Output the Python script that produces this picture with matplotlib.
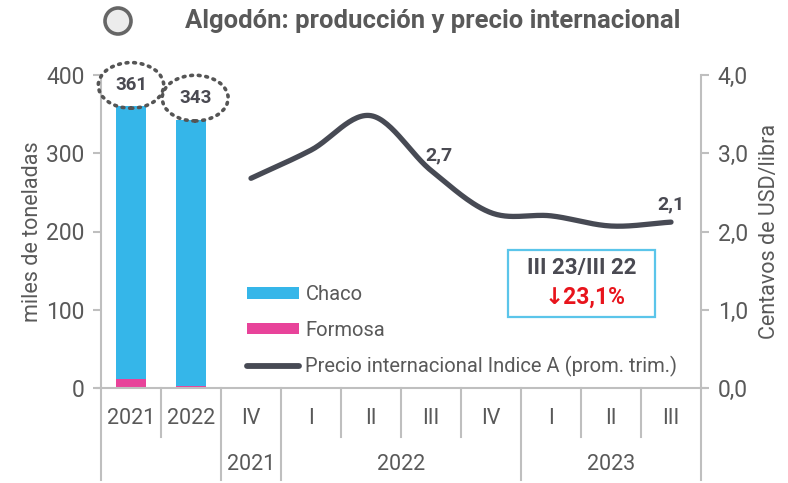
import numpy as np
import matplotlib
matplotlib.use("Agg")
import matplotlib.pyplot as plt
from matplotlib import font_manager as fm
from matplotlib.patches import Rectangle, Ellipse
from matplotlib.lines import Line2D
import matplotlib.transforms as mtransforms

# ---------------- data ----------------
bar_years = ["2021", "2022"]
chaco = [350, 340]
formosa = [11, 3]
bar_totals = [361, 343]

quarters = ["IV", "I", "II", "III", "IV", "I", "II", "III"]
quarter_years = ["2021", "2022", "2022", "2022", "2022", "2023", "2023", "2023"]
price = [2.68, 3.04, 3.48, 2.78, 2.24, 2.20, 2.07, 2.12]
price_labels = {3: "2,7", 7: "2,1"}

left_ticks = [0, 100, 200, 300, 400]
right_ticks = [0.0, 1.0, 2.0, 3.0, 4.0]
right_tick_labels = ["0,0", "1,0", "2,0", "3,0", "4,0"]

# ---------------- style ----------------
names = {f.name for f in fm.fontManager.ttflist}
BASE = "Roboto" if "Roboto" in names else "DejaVu Sans"
NARROW = "Liberation Sans Narrow" if "Liberation Sans Narrow" in names else BASE
plt.rcParams["font.family"] = [BASE, "DejaVu Sans"]

GRAY_TXT = "#595959"
DARK = "#4a4a52"
AXC = "#bfbfbf"
C_CHACO = "#35b6e9"
C_FORM = "#e8439a"
C_LINE = "#474a54"

W, H = 788, 483
fig = plt.figure(figsize=(W / 100, H / 100), dpi=100)
x0, x1 = 101, 701
y0, y1 = 388, 75
ax = fig.add_axes([x0 / W, (H - y0) / H, (x1 - x0) / W, (y0 - y1) / H])
ax2 = ax.twinx()

n_cat = len(bar_years) + len(quarters)
xb = np.arange(len(bar_years))
xq = np.arange(len(bar_years), n_cat)

# bars
b_form = ax.bar(xb, formosa, width=0.5, color=C_FORM, label="Formosa", zorder=3)
b_chaco = ax.bar(xb, chaco, width=0.5, bottom=formosa, color=C_CHACO, label="Chaco", zorder=3)

# smoothed line (Catmull-Rom through the data points)
def catmull(xs, ys, n=30):
    xs = np.asarray(xs, float); ys = np.asarray(ys, float)
    px = np.concatenate([[2 * xs[0] - xs[1]], xs, [2 * xs[-1] - xs[-2]]])
    py = np.concatenate([[2 * ys[0] - ys[1]], ys, [2 * ys[-1] - ys[-2]]])
    ox, oy = [], []
    for i in range(1, len(px) - 2):
        t = np.linspace(0, 1, n, endpoint=False)
        for P, out in ((px, ox), (py, oy)):
            p0, p1, p2, p3 = P[i - 1], P[i], P[i + 1], P[i + 2]
            out.extend(0.5 * ((2 * p1) + (-p0 + p2) * t + (2 * p0 - 5 * p1 + 4 * p2 - p3) * t ** 2
                              + (-p0 + 3 * p1 - 3 * p2 + p3) * t ** 3))
    ox.append(xs[-1]); oy.append(ys[-1])
    return np.array(ox), np.array(oy)

sx, sy = catmull(xq, price)
ax2.plot(sx, sy, color=C_LINE, lw=3.8, solid_capstyle="round", zorder=4)
line_handle = Line2D([], [], color=C_LINE, lw=4.2, solid_capstyle="round")

label_offsets = {3: (-4, 11), 7: (0, 13)}
for i, lab in price_labels.items():
    dx, dy = label_offsets[i]
    ax2.annotate(lab, (xq[i], price[i]), xytext=(dx, dy), textcoords="offset points",
                 ha="center" if i == 7 else "left", va="center", fontsize=14, fontweight="bold", color=DARK)

# axes limits & ticks
ax.set_xlim(-0.5, n_cat - 0.5)
ax.set_ylim(0, 400)
ax2.set_ylim(0, 4.0)
ax.set_yticks(left_ticks)
ax.set_yticklabels([str(t) for t in left_ticks])
ax2.set_yticks(right_ticks)
ax2.set_yticklabels(right_tick_labels)
ax.set_xticks([])
for a in (ax, ax2):
    a.tick_params(axis="y", length=6, width=1.5, color=AXC, labelsize=16.5, labelcolor=GRAY_TXT, pad=6)
    for s in a.spines.values():
        s.set_visible(False)
    a.patch.set_visible(False)
ax.spines["left"].set_visible(True)
ax.spines["left"].set_color(AXC); ax.spines["left"].set_linewidth(1.5)
ax2.spines["right"].set_visible(True)
ax2.spines["right"].set_color(AXC); ax2.spines["right"].set_linewidth(1.5)

ax.set_ylabel("miles de toneladas", fontsize=15.5, color=GRAY_TXT, labelpad=2)
ax2.set_ylabel("Centavos de USD/libra", fontsize=15.5, color=GRAY_TXT, labelpad=8)

# x axis line
ax.plot([-0.57, n_cat - 0.43], [0, 0], color=AXC, lw=1.5, clip_on=False, zorder=5)

# two-level category axis
tr = mtransforms.blended_transform_factory(ax.transData, ax.transAxes)
row1 = -30 / 313
row2 = -77 / 313
short_end = -49 / 313
long_end = -92 / 313
cat_labels = bar_years + quarters
for i, lab in enumerate(cat_labels):
    ax.text(i, row1, lab, transform=tr, ha="center", va="center", fontsize=15.5,
            color=GRAY_TXT, family=[NARROW, "DejaVu Sans"])
groups = []
for i, yr in enumerate(quarter_years):
    if groups and groups[-1][0] == yr:
        groups[-1][2] = xq[i]
    else:
        groups.append([yr, xq[i], xq[i]])
for yr, a, b in groups:
    ax.text((a + b) / 2, row2, yr, transform=tr, ha="center", va="center", fontsize=15.5,
            color=GRAY_TXT, family=[NARROW, "DejaVu Sans"])
long_bounds = {-0.5, len(bar_years) - 0.5, n_cat - 0.5}
for yr, a, b in groups:
    long_bounds.add(a - 0.5); long_bounds.add(b + 0.5)
for k in range(n_cat + 1):
    xb_ = k - 0.5
    end = long_end if xb_ in long_bounds else short_end
    ax.plot([xb_, xb_], [0, end], transform=tr, color=AXC, lw=1.5, clip_on=False)

# total labels with dotted ellipses
tot_offsets = [(0, 8), (3, 9)]
for i, tot in enumerate(bar_totals):
    dx, dy = tot_offsets[i]
    ax.annotate(str(tot), (xb[i], tot), xytext=(dx, dy), textcoords="offset points",
                ha="center", va="bottom", fontsize=13.5, fontweight="bold", color=DARK,
                bbox=dict(boxstyle="ellipse,pad=0.38", fc="none", ec="#555555",
                          ls=(0, (0.5, 1.6)), lw=2.6, capstyle="round"), zorder=6)

# legend
leg = ax.legend([b_chaco, b_form, line_handle], ["Chaco", "Formosa", "Precio internacional Indice A (prom. trim.)"],
                loc="upper left", bbox_to_anchor=((247 - x0) / 600, (388 - 285) / 313), frameon=False,
                fontsize=14.5, handlelength=2.6, handleheight=0.5, handletextpad=0.3, labelspacing=0.82,
                borderpad=0, borderaxespad=0, labelcolor=GRAY_TXT)
leg.set_zorder(7)

# comparison box
bx0, bx1 = (508 - x0) / 600, (655 - x0) / 600
by0, by1 = (388 - 317) / 313, (388 - 250) / 313
ax.add_patch(Rectangle((bx0, by0), bx1 - bx0, by1 - by0, transform=ax.transAxes, fc="white",
                       ec="#5bc5ea", lw=1.6, zorder=8))
ax.text((bx0 + bx1) / 2, (388 - 268) / 313, "III 23/III 22", transform=ax.transAxes, ha="center", va="center",
        fontsize=16, fontweight="bold", color=DARK, zorder=9)
ax.text((bx0 + bx1) / 2 + 0.006, (388 - 297) / 313, "↓23,1%", transform=ax.transAxes, ha="center", va="center",
        fontsize=16.5, fontweight="bold", color="#e8141c", family=[BASE, "DejaVu Sans"], zorder=9)

# title and icon
fig.add_artist(Ellipse((118 / W, 1 - 21 / H), 26 / W, 26 / H, transform=fig.transFigure,
                       fc="#ececec", ec="#666666", lw=2.6))
title = fig.text(185 / W, 1 - 21 / H, "Algodón: producción y precio internacional", ha="left", va="center",
                 fontsize=17, fontweight="bold", color=GRAY_TXT, family=[NARROW, BASE, "DejaVu Sans"])
fig.canvas.draw()
bb = title.get_window_extent()
title.set_fontsize(17 * 495 / bb.width)

fig.savefig("out.png", dpi=100)
